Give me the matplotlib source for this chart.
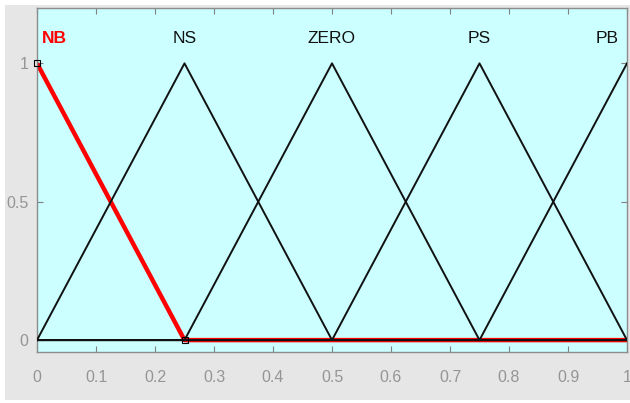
import matplotlib.pyplot as plt
from matplotlib.patches import Rectangle

# membership function names and their vertex points over the universe [0, 1]
MF_NAMES = ["NB", "NS", "ZERO", "PS", "PB"]
MF_PEAKS = [0.0, 0.25, 0.5, 0.75, 1.0]

NB_X = [0.0, 0.25, 1.0]
NB_Y = [1.0, 0.0, 0.0]
NS_X = [0.0, 0.25, 0.5, 1.0]
NS_Y = [0.0, 1.0, 0.0, 0.0]
ZERO_X = [0.0, 0.25, 0.5, 0.75, 1.0]
ZERO_Y = [0.0, 0.0, 1.0, 0.0, 0.0]
PS_X = [0.0, 0.5, 0.75, 1.0]
PS_Y = [0.0, 0.0, 1.0, 0.0]
PB_X = [0.0, 0.75, 1.0]
PB_Y = [0.0, 0.0, 1.0]

X_TICKS = [0, 0.1, 0.2, 0.3, 0.4, 0.5, 0.6, 0.7, 0.8, 0.9, 1]
X_TICKLABELS = ["0", "0.1", "0.2", "0.3", "0.4", "0.5", "0.6", "0.7", "0.8", "0.9", "1"]
Y_TICKS = [0, 0.5, 1]
Y_TICKLABELS = ["0", "0.5", "1"]

plt.rcParams["font.family"] = ["Liberation Sans Narrow", "Liberation Sans", "DejaVu Sans"]

fig = plt.figure(figsize=(6.3, 4.03), dpi=100, facecolor="white")

# gray figure panel like the matlab window
fig.patches.append(
    Rectangle((5 / 630, 3 / 403), 625 / 630, 395 / 403, transform=fig.transFigure,
              facecolor="#e6e6e6", edgecolor="none", zorder=-10)
)

ax = fig.add_axes([37 / 630, 51 / 403, 590 / 630, 344 / 403])
ax.set_facecolor("#ccffff")

# selected MF (red, thick) drawn first so black lines sit on top
ax.plot(NB_X, NB_Y, color="red", lw=3.2, solid_capstyle="butt", zorder=2)
for xs, ys in [(NS_X, NS_Y), (ZERO_X, ZERO_Y), (PS_X, PS_Y), (PB_X, PB_Y)]:
    ax.plot(xs, ys, color="#111111", lw=1.4, zorder=3)

# small handle squares on the selected MF
ax.plot([NB_X[0], NB_X[1]], [NB_Y[0], NB_Y[1]], ls="none", marker="s", ms=4,
        mfc="none", mec="black", mew=0.8, zorder=4, clip_on=False)

# MF labels above the peaks
for name, peak in zip(MF_NAMES, MF_PEAKS):
    if name == "NB":
        ax.text(peak + 0.03, 1.09, name, color="red", fontsize=12.5, fontweight="bold",
                ha="center", va="center")
    elif name == "PB":
        ax.text(peak - 0.033, 1.09, name, color="#111111", fontsize=12.5,
                ha="center", va="center")
    else:
        ax.text(peak, 1.09, name, color="#111111", fontsize=12.5, ha="center", va="center")

ax.set_xlim(0, 1)
ax.set_ylim(-0.043, 1.2)
ax.set_xticks(X_TICKS)
ax.set_xticklabels(X_TICKLABELS)
ax.set_yticks(Y_TICKS)
ax.set_yticklabels(Y_TICKLABELS)
ax.tick_params(axis="both", direction="in", length=4, width=0.8, color="#808080",
               labelcolor="#959595", labelsize=11.5, top=True, right=True)
ax.tick_params(axis="x", pad=13)
ax.tick_params(axis="y", pad=6)
for s in ax.spines.values():
    s.set_color("#8c8c8c")
    s.set_linewidth(1.0)

fig.savefig("out.png", dpi=100, facecolor=fig.get_facecolor())
